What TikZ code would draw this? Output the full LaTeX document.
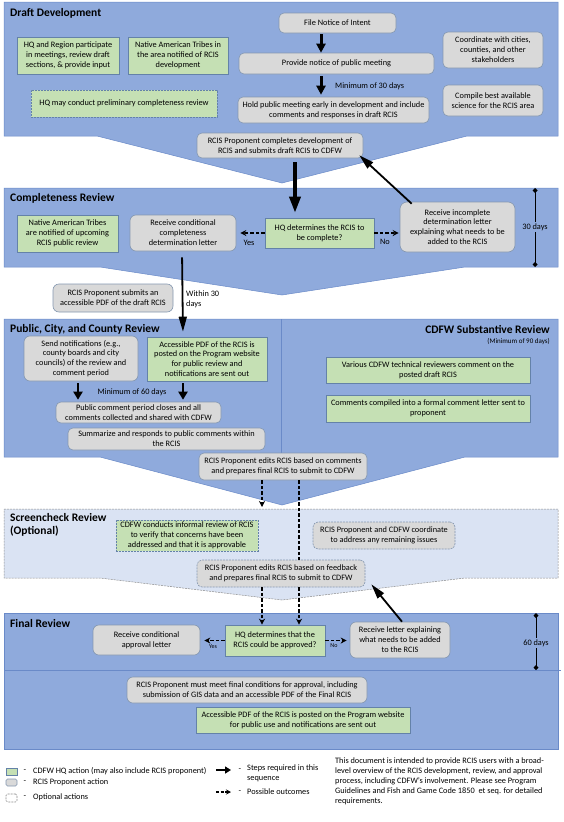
\documentclass[tikz,border=0pt]{standalone}
\usepackage{fontspec}
\setmainfont{Carlito}
\usetikzlibrary{arrows.meta,calc}
\definecolor{secblue}{HTML}{8FAADC}
\definecolor{secline}{HTML}{6A8AC8}
\definecolor{boxgreen}{HTML}{C5E0B4}
\definecolor{gline}{HTML}{6482A8}
\definecolor{boxgray}{HTML}{D9D9D9}
\definecolor{pline}{HTML}{8497B0}
\definecolor{scfill}{HTML}{DAE3F3}
\definecolor{scline}{HTML}{8C8C8C}
\newcommand\bxfont{\fontsize{8.3}{9.9}\selectfont}
\newcommand\smfont{\fontsize{7}{8.5}\selectfont}
\newcommand\tinyfont{\fontsize{6}{7}\selectfont}
\newcommand\ttlfont{\fontsize{11.5}{13}\selectfont\bfseries}
\begin{document}
\begin{tikzpicture}[x=1pt,y=-1pt,
  sec/.style={fill=secblue,draw=secline,line width=0.5pt},
  scsec/.style={fill=scfill,draw=scline,line width=0.5pt,dash pattern=on 2pt off 1pt},
  bx/.style={inner sep=1pt,align=center,font=\bxfont,line width=0.6pt},
  gbox/.style={bx,draw=gline,fill=boxgreen},
  pbox/.style={bx,draw=pline,fill=boxgray,rounded corners=5pt},
  optbox/.style={dash pattern=on 2pt off 1pt},
  ttl/.style={font=\ttlfont,inner sep=0pt,align=left},
  lbl/.style={font=\smfont,inner sep=0pt},
  bigarrow/.style={line width=3pt,-{Triangle[length=9pt,width=9pt]}},
  longarrow/.style={line width=1.8pt,-{Triangle[length=15pt,width=8pt]}},
  darr/.style={line width=1.4pt,dash pattern=on 3.5pt off 2pt,-{Stealth[length=6pt,width=6pt]}},
  dline/.style={line width=1.4pt,dash pattern=on 3.5pt off 2pt},
  dim/.style={line width=1pt,{Turned Square[length=5pt,width=5pt]}-}
]
\useasboundingbox (0,0) rectangle (564,822);
\fill[white] (0,0) rectangle (564,822);

% ---------- sections ----------
\filldraw[sec] (4,2) -- (558,2) -- (558,136) -- (467,136) -- (282,183) -- (97,136) -- (4,136) -- cycle;
\filldraw[sec] (4,188) -- (558,188) -- (558,267) -- (465,267) -- (282,295) -- (100,267) -- (4,267) -- cycle;
\filldraw[sec] (4,319) -- (558,319) -- (558,457) -- (465,457) -- (282,505) -- (100,457) -- (4,457) -- cycle;
\draw[secline,line width=0.6pt] (281,319) -- (281,457);
\filldraw[scsec] (4,509) -- (558,509) -- (558,578) -- (465,578) -- (282,600) -- (100,578) -- (4,578) -- cycle;
\filldraw[sec] (4,613) rectangle (558,749);
\draw[secline,line width=0.6pt] (4,670) -- (561,670);

% ---------- titles ----------
\node[ttl,anchor=west] (t1) at (10,13) {Draft Development};
\node[ttl,anchor=west] (t2) at (10,198) {Completeness Review};
\node[ttl,anchor=west] (t3) at (10,329) {Public, City, and County Review};
\node[ttl,anchor=east] (t4) at (550,329) {CDFW Substantive Review};
\node[lbl,anchor=east] (t4b) at (550,341) {(Minimum of 90 days)};
\node[ttl,anchor=north west] (t5) at (10,513) {Screencheck Review\\(Optional)};
\node[ttl,anchor=west] (t6) at (10,623) {Final Review};

% ---------- Draft Development ----------
\node[gbox,minimum width=102pt,minimum height=37pt] (hqreg) at (68,55.5) {HQ and Region participate\\in meetings, review draft\\sections, \& provide input};
\node[gbox,minimum width=100pt,minimum height=37pt] (tribes1) at (178,55.5) {Native American Tribes in\\the area notified of RCIS\\development};
\node[gbox,optbox,minimum width=186pt,minimum height=27pt] (prelim) at (124,103.5) {HQ may conduct preliminary completeness review};
\node[pbox,minimum width=117pt,minimum height=20pt] (noi) at (337.5,23) {File Notice of Intent};
\node[pbox,minimum width=195pt,minimum height=21pt] (notice) at (336.5,63.5) {Provide notice of public meeting};
\node[pbox,minimum width=191pt,minimum height=26pt] (hold) at (333.5,110) {Hold public meeting early in development and include\\comments and responses in draft RCIS};
\node[pbox,minimum width=100pt,minimum height=36pt] (coord) at (493,50) {Coordinate with cities,\\counties, and other\\stakeholders};
\node[pbox,minimum width=100pt,minimum height=31pt] (compile) at (493,100.5) {Compile best available\\science for the RCIS area};
\node[lbl,font=\bxfont,anchor=west] (min30) at (335,86) {Minimum of 30 days};
\node[pbox,minimum width=166pt,minimum height=25pt] (submit) at (280,145.5) {RCIS Proponent completes development of\\RCIS and submits draft RCIS to CDFW};

% ---------- Completeness Review ----------
\node[gbox,minimum width=109pt,minimum height=30pt] (hqc) at (319.5,233) {HQ determines the RCIS to\\be complete?};
\node[pbox,rounded corners=7pt,minimum width=115pt,minimum height=50pt] (incomplete) at (457.5,227) {Receive incomplete\\determination letter\\explaining what needs to be\\added to the RCIS};
\node[gbox,minimum width=101pt,minimum height=37pt] (tribes2) at (67.5,233.5) {Native American Tribes\\are notified of upcoming\\RCIS public review};
\node[pbox,rounded corners=6pt,minimum width=106pt,minimum height=36pt] (condcomp) at (183,233) {Receive conditional\\completeness\\determination letter};
\node[lbl,font=\bxfont] (yes1) at (249,243) {Yes};
\node[lbl,font=\bxfont] (no1) at (385,242) {No};
\node[lbl,font=\bxfont] (d30) at (535,227) {30 days};
\coordinate (d30a) at (535,188);
\coordinate (d30b) at (535,267);
\node[pbox,rounded corners=6pt,minimum width=120pt,minimum height=28pt] (pdfsubmit) at (113,298) {RCIS Proponent submits an\\accessible PDF of the draft RCIS};
\node[lbl,font=\bxfont,anchor=north west,align=left] (within) at (186,291) {Within 30\\days};

% ---------- Public review ----------
\node[pbox,rounded corners=6pt,minimum width=114pt,minimum height=45pt] (sendnot) at (81,358.5) {Send notifications (e.g.,\\county boards and city\\councils) of the review and\\comment period};
\node[gbox,minimum width=120pt,minimum height=44pt] (pdfpost) at (207,359) {Accessible PDF of the RCIS is\\posted on the Program website\\for public review and\\notifications are sent out};
\node[lbl,font=\bxfont] (min60) at (132,392) {Minimum of 60 days};
\node[pbox,minimum width=165pt,minimum height=21pt] (closes) at (138.5,412.5) {Public comment period closes and all\\comments collected and shared with CDFW};
\node[pbox,minimum width=197pt,minimum height=22pt] (summ) at (166.5,439) {Summarize and responds to public comments within\\the RCIS};
\node[gbox,minimum width=204pt,minimum height=26pt] (various) at (428,370) {Various CDFW technical reviewers comment on the\\posted draft RCIS};
\node[gbox,minimum width=204pt,minimum height=27pt] (compiled) at (428,408.5) {Comments compiled into a formal comment letter sent to\\proponent};
\node[pbox,minimum width=168pt,minimum height=27pt] (edits1) at (283,466.5) {RCIS Proponent edits RCIS based on comments\\and prepares final RCIS to submit to CDFW};
\coordinate (sctop) at (262,507);

% ---------- Screencheck ----------
\node[gbox,optbox,minimum width=142pt,minimum height=31pt] (informal) at (187,535.5) {CDFW conducts informal review of RCIS\\to verify that concerns have been\\addressed and that it is approvable};
\node[pbox,optbox,minimum width=142pt,minimum height=27pt] (coord2) at (384,535.5) {RCIS Proponent and CDFW coordinate\\to address any remaining issues};
\node[pbox,optbox,minimum width=168pt,minimum height=27pt] (edits2) at (281,573.5) {RCIS Proponent edits RCIS based on feedback\\and prepares final RCIS to submit to CDFW};

% ---------- Final Review ----------
\node[pbox,rounded corners=6pt,minimum width=107pt,minimum height=30pt] (condappr) at (146.5,640) {Receive conditional\\approval letter};
\node[gbox,minimum width=100pt,minimum height=31pt] (hqa) at (275,640.5) {HQ determines that the\\RCIS could be approved?};
\node[pbox,rounded corners=6pt,minimum width=100pt,minimum height=36pt] (letter) at (400,640) {Receive letter explaining\\what needs to be added\\to the RCIS};
\node[lbl,font=\tinyfont] (yes2) at (213,647) {Yes};
\node[lbl,font=\tinyfont] (no2) at (334,646) {No};
\node[lbl,font=\bxfont] (d60) at (536,643) {60 days};
\coordinate (d60a) at (536,613);
\coordinate (d60b) at (536,670);
\node[pbox,rounded corners=6pt,minimum width=240pt,minimum height=26pt] (final) at (247,690) {RCIS Proponent must meet final conditions for approval, including\\submission of GIS data and an accessible PDF of the Final RCIS};
\node[gbox,minimum width=214pt,minimum height=26pt] (pdffinal) at (303,720) {Accessible PDF of the RCIS is posted on the Program website\\for public use and notifications are sent out};

% ---------- connectors ----------
\draw[bigarrow,shorten <=1pt] ([xshift=-16.5pt]noi.south) -- ([xshift=-15.5pt]notice.north);
\draw[bigarrow,shorten <=2pt,shorten >=2pt] ([xshift=-15.5pt]notice.south) -- ([xshift=-12.5pt]hold.north);
\draw[bigarrow,line width=3.5pt,-{Triangle[length=16pt,width=11pt]},shorten <=4pt,shorten >=5pt] ([xshift=15pt]submit.south) -- ([xshift=-24.5pt]hqc.north);
\draw[longarrow] ([xshift=12pt,yshift=-2pt]incomplete.north west) -- ([xshift=-4pt,yshift=3pt]submit.south east);
\draw[darr,shorten >=4pt] (hqc.west) -- (hqc.west -| condcomp.east);
\draw[darr,shorten >=1pt] (hqc.east) -- (hqc.east -| incomplete.west);
\draw[dim,shorten >=1pt] (d30a) -- (d30.north);
\draw[dim,shorten >=1pt] (d30b) -- (d30.south);
\draw[longarrow,shorten <=6pt,shorten >=5pt] ([xshift=-1pt]condcomp.south) -- ([xshift=-24pt]pdfpost.north);
\draw[bigarrow,line width=2.5pt,-{Triangle[length=8pt,width=9pt]},shorten <=2pt,shorten >=2pt] ([xshift=-3pt]sendnot.south) -- ([xshift=-60.5pt]closes.north);
\draw[bigarrow,line width=2.5pt,-{Triangle[length=8pt,width=9pt]},shorten <=2pt,shorten >=2pt] ([xshift=-24pt]pdfpost.south) -- ([xshift=44.5pt]closes.north);
\draw[darr] ([xshift=-21pt]edits1.south) -- (sctop);
\draw[dline] ([xshift=16pt]edits1.south) -- ([xshift=18pt]edits2.north);
\draw[darr] ([xshift=18pt]edits2.south) -- ([xshift=24pt]hqa.north);
\draw[darr] ([xshift=-19pt]edits2.south) -- ([xshift=-13pt]hqa.north);
\draw[darr,shorten >=4pt] (hqa.west) -- (hqa.west -| condappr.east);
\draw[darr,shorten >=3pt] (hqa.east) -- (hqa.east -| letter.west);
\draw[longarrow] ([xshift=2pt]letter.north) -- ([xshift=6pt,yshift=3pt]edits2.south east);
\draw[dim,shorten >=1pt] (d60a) -- (d60.north);
\draw[dim,shorten >=1pt] (d60b) -- (d60.south);

% ---------- legend ----------
\node[gbox,minimum width=11pt,minimum height=7pt] (lg1) at (11.5,771.5) {};
\node[pbox,rounded corners=1.5pt,minimum width=11pt,minimum height=7pt] (lg2) at (11.5,782.5) {};
\node[bx,draw=scline,optbox,rounded corners=1.5pt,minimum width=11pt,minimum height=8pt] (lg3) at (11.5,798) {};
\node[lbl,font=\bxfont] (ld1) at (25,771) {-};
\node[lbl,font=\bxfont] (ld2) at (25,782) {-};
\node[lbl,font=\bxfont] (ld3) at (25,797) {-};
\node[lbl,font=\bxfont,anchor=west] (lt1) at (33,771) {CDFW HQ action (may also include RCIS proponent)};
\node[lbl,font=\bxfont,anchor=west] (lt2) at (33,782) {RCIS Proponent action};
\node[lbl,font=\bxfont,anchor=west] (lt3) at (33,797) {Optional actions};
\coordinate (la1) at (216,770);
\coordinate (la2) at (231,770);
\coordinate (lb1) at (216,792);
\coordinate (lb2) at (231,792);
\draw[line width=2pt,-{Triangle[length=6pt,width=7pt]}] (la1) -- (la2);
\draw[line width=1.2pt,dash pattern=on 3pt off 1.5pt,-{Stealth[length=5pt,width=5pt]}] (lb1) -- (lb2);
\node[lbl,font=\bxfont] (ld4) at (240,770) {-};
\node[lbl,font=\bxfont] (ld5) at (240,792) {-};
\node[lbl,font=\bxfont,anchor=north west,align=left] (lt4) at (247,765) {Steps required in this\\sequence};
\node[lbl,font=\bxfont,anchor=west] (lt5) at (247,792) {Possible outcomes};
\node[lbl,font=\bxfont,anchor=north west,align=left] (para) at (335,758) {This document is intended to provide RCIS users with a broad-\\level overview of the RCIS development, review, and approval\\process, including CDFW’s involvement. Please see Program\\Guidelines and Fish and Game Code 1850\ \ et seq. for detailed\\requirements.};
\end{tikzpicture}
\end{document}
